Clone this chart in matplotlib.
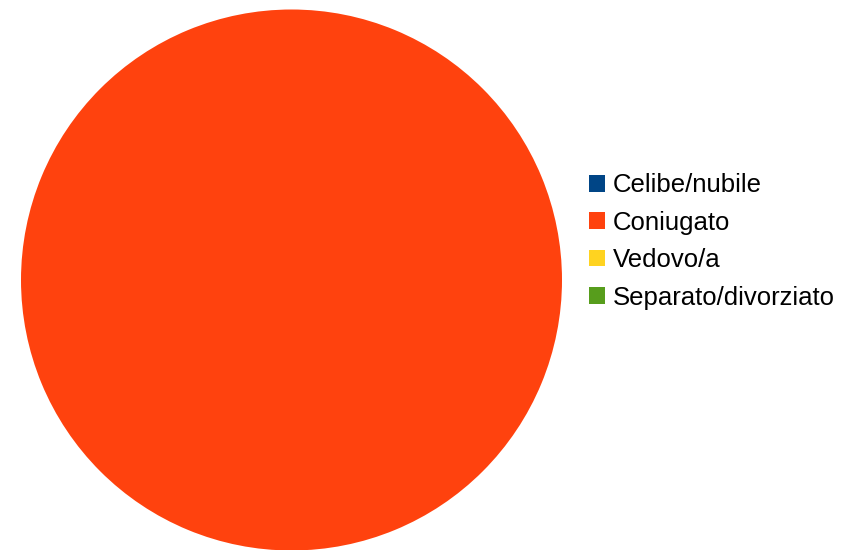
import matplotlib.pyplot as plt
from matplotlib.patches import Patch

# marital status shares (all in "Coniugato")
labels = ["Celibe/nubile", "Coniugato", "Vedovo/a", "Separato/divorziato"]
values = [0, 100, 0, 0]
colors = ["#004586", "#ff420e", "#ffd320", "#579d1c"]

plt.rcParams['font.family'] = ['Liberation Sans', 'DejaVu Sans']

fig = plt.figure(figsize=(8.46, 5.5), dpi=100)
W, H = 846, 550
cx, cy, r = 291.5, 280, 270.5
ax = fig.add_axes([(cx - r) / W, (H - cy - r) / H, 2 * r / W, 2 * r / H])
ax.pie(values, colors=colors, startangle=90, counterclock=False,
       wedgeprops=dict(linewidth=0), radius=1)
ax.set_xlim(-1, 1)
ax.set_ylim(-1, 1)
ax.set_aspect('equal')
ax.axis('off')

handles = [Patch(facecolor=c, edgecolor='none') for c in colors]
fig.legend(handles, labels, loc='center left',
           bbox_to_anchor=(589 / W, 1 - 241.5 / H),
           frameon=False, fontsize=18.5, handlelength=0.62, handleheight=0.62,
           handletextpad=0.3, labelspacing=0.52, borderpad=0, borderaxespad=0)

fig.savefig("out.png", dpi=100)
plt.close(fig)
